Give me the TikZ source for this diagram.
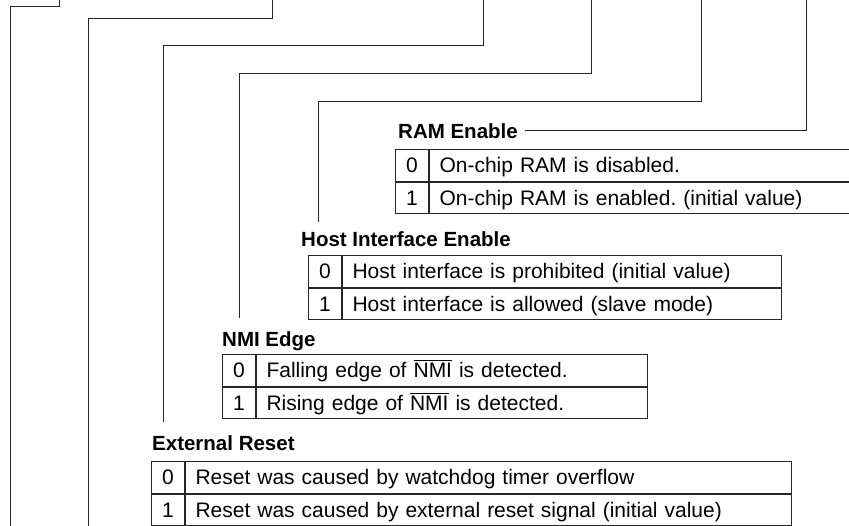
\documentclass[tikz,border=0pt]{standalone}
\usepackage{fontspec}
\setmainfont{Liberation Sans}
\frenchspacing
\newcommand\ovbar[1]{\setbox0\hbox{#1}\rlap{\rule[16.5pt]{\wd0}{0.9pt}}\box0\relax}
\begin{document}
\begin{tikzpicture}[x=1pt,y=-1pt,
  ln/.style={draw=black!85, line width=1pt},
  ttl/.style={font=\fontsize{20.5}{24}\selectfont\bfseries, anchor=base west, inner sep=0pt, text height=15pt, text depth=0pt},
  num/.style={draw=black!85, line width=1pt, anchor=north west, inner sep=0pt, minimum width=33pt, minimum height=31.5pt, text height=15pt, text depth=0pt, font=\fontsize{21}{25}\selectfont},
  desc/.style={draw=black!85, line width=1pt, anchor=north west, inner ysep=0pt, inner xsep=10pt, minimum height=31.5pt, text width=#1, align=left, text height=15pt, text depth=0pt, font=\fontsize{21}{25}\selectfont}]
\clip (0,0) rectangle (849,525);
\fill[white] (0,0) rectangle (849,525);

% RAM Enable
\node[ttl] (ram) at (398,138) {RAM Enable};
\node[num] (ram0n) at (395,149) {0};
\node[desc=452pt] (ram0d) at (ram0n.north east) {On-chip RAM is disabled.};
\node[num] (ram1n) at (ram0n.south west) {1};
\node[desc=452pt] (ram1d) at (ram1n.north east) {On-chip RAM is enabled. (initial value)};

% Host Interface Enable
\node[ttl] (hie) at (301,246) {Host Interface Enable};
\node[num] (hie0n) at (308,255) {0};
\node[desc=419pt] (hie0d) at (hie0n.north east) {Host interface is prohibited (initial value)};
\node[num] (hie1n) at (hie0n.south west) {1};
\node[desc=419pt] (hie1d) at (hie1n.north east) {Host interface is allowed (slave mode)};

% NMI Edge
\node[ttl] (nmi) at (222,346) {NMI Edge};
\node[num] (nmi0n) at (222,354) {0};
\node[desc=371pt] (nmi0d) at (nmi0n.north east) {Falling edge of \ovbar{NMI} is detected.};
\node[num] (nmi1n) at (nmi0n.south west) {1};
\node[desc=371pt] (nmi1d) at (nmi1n.north east) {Rising edge of \ovbar{NMI} is detected.};

% External Reset
\node[ttl] (ext) at (152,450) {External Reset};
\node[num] (ext0n) at (151,461) {0};
\node[desc=586pt] (ext0d) at (ext0n.north east) {Reset was caused by watchdog timer overflow};
\node[num] (ext1n) at (ext0n.south west) {1};
\node[desc=586pt] (ext1d) at (ext1n.north east) {Reset was caused by external reset signal (initial value)};

% elbow connectors
\coordinate (t1) at (59,-2);  \coordinate (k1) at (10,6);   \coordinate (b1) at (10,527);
\coordinate (t2) at (272,-2); \coordinate (k2) at (88,18);  \coordinate (b2) at (88,527);
\coordinate (t3) at (483,-2); \coordinate (k3) at (163,45); \coordinate (b3) at (163,422);
\coordinate (t4) at (591,-2); \coordinate (k4) at (239,73); \coordinate (b4) at (239,318);
\coordinate (t5) at (701,-2); \coordinate (k5) at (318,101); \coordinate (b5) at (318,222);
\coordinate (t6) at (806,-2);
\draw[ln] (b1) -- (k1) -| (t1);
\draw[ln] (b2) -- (k2) -| (t2);
\draw[ln] (b3) -- (k3) -| (t3);
\draw[ln] (b4) -- (k4) -| (t4);
\draw[ln] (b5) -- (k5) -| (t5);
\draw[ln] ([xshift=7pt]ram.east) -| (t6);
\end{tikzpicture}
\end{document}
